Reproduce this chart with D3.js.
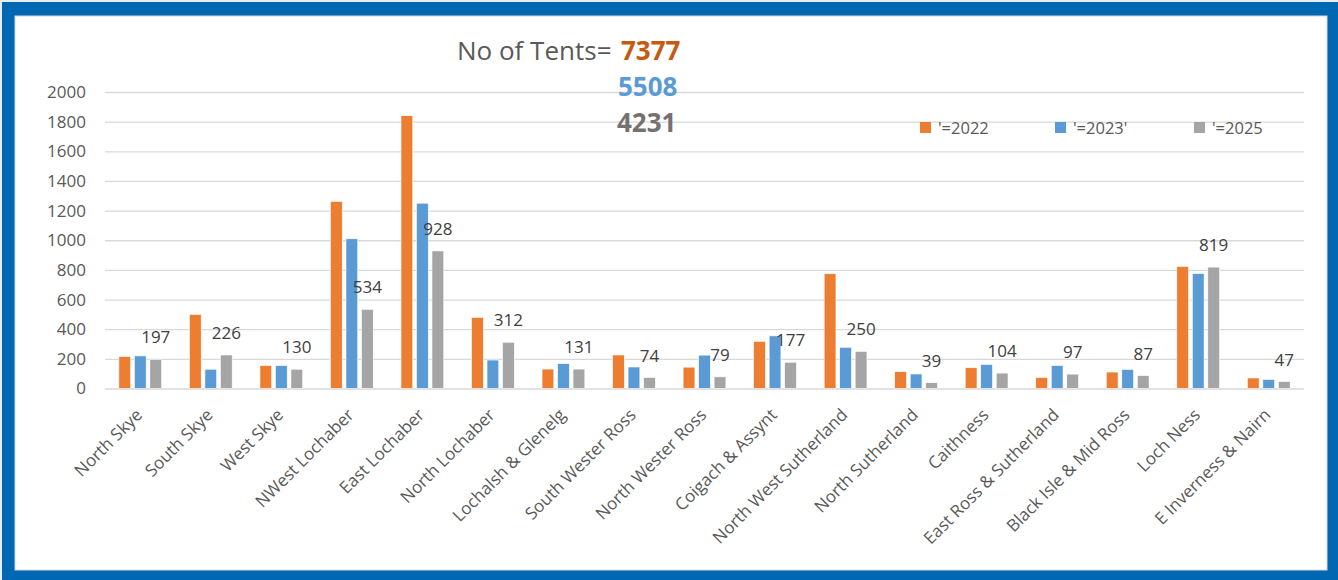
<!DOCTYPE html>
<html>
<head>
<meta charset="utf-8">
<script src="https://cdn.jsdelivr.net/npm/d3@7"></script>
<style>
  body { margin: 0; background: #e9eef4; }
  text { font-family: "Open Sans", sans-serif; }
</style>
</head>
<body>
<svg id="chart" width="1338" height="580"></svg>
<script>
// areas along the x axis
var areas = ["North Skye", "South Skye", "West Skye", "NWest Lochaber", "East Lochaber",
  "North Lochaber", "Lochalsh & Glenelg", "South Wester Ross", "North Wester Ross",
  "Coigach & Assynt", "North West Sutherland", "North Sutherland", "Caithness",
  "East Ross & Sutherland", "Black Isle & Mid Ross", "Loch Ness", "E Inverness & Nairn"];

var seriesNames = ["'=2022", "'=2023'", "'=2025"];

// tents counted
var tents2022 = [215, 500, 155, 1262, 1840, 480, 131, 226, 144, 318, 774, 113, 140, 74, 111, 823, 71];
var tents2023 = [220, 130, 155, 1010, 1250, 192, 168, 145, 225, 355, 278, 98, 162, 155, 129, 775, 61];
var tents2025 = [197, 226, 130, 534, 928, 312, 131, 74, 79, 177, 250, 39, 104, 97, 87, 819, 47];

var totals = [7377, 5508, 4231];
var yTicks = [0, 200, 400, 600, 800, 1000, 1200, 1400, 1600, 1800, 2000];

var colors = ["#ed7d31", "#5b9bd5", "#a5a5a5"];
var totalColors = ["#c55a11", "#5b9bd5", "#767171"];

var W = 1338, H = 580;
var svg = d3.select("#chart");

// frame
svg.append("rect").attr("x", 2).attr("y", 2).attr("width", W - 2).attr("height", H - 2)
  .attr("fill", "#0068b3");
svg.append("rect").attr("x", 15).attr("y", 16).attr("width", 1312).attr("height", 554)
  .attr("fill", "#fff").attr("stroke", "#cfd8e0").attr("stroke-width", 1);

var plotLeft = 105, plotRight = 1304, plotTop = 92, plotBottom = 388.5;

var y = d3.scaleLinear().domain([0, 2000]).range([plotBottom, plotTop]);
var x0 = d3.scaleBand().domain(areas).range([plotLeft, plotRight]);
var x1 = d3.scaleBand().domain(seriesNames).range([0, 46.5])
  .paddingInner(0.24).paddingOuter(0.12);
var groupOffset = (x0.bandwidth() - 46.5) / 2;

// y axis + gridlines
var yAxis = svg.append("g")
  .attr("transform", "translate(" + plotLeft + ",0)")
  .call(d3.axisLeft(y).tickValues(yTicks).tickSizeInner(-(plotRight - plotLeft)).tickSizeOuter(0).tickPadding(19).tickFormat(d3.format("d")));
yAxis.select(".domain").remove();
yAxis.selectAll("line").attr("stroke", "#d9d9d9").attr("stroke-width", 1.3);
yAxis.selectAll("text").attr("fill", "#595959").style("font-size", "17px");

// x axis labels
var xAxis = svg.append("g")
  .attr("transform", "translate(0," + plotBottom + ")")
  .call(d3.axisBottom(x0).tickSize(0));
xAxis.select(".domain").remove();
xAxis.selectAll("text")
  .attr("x", 0).attr("y", 0).attr("dy", 0)
  .attr("transform", "translate(3,27.5) rotate(-45)")
  .style("text-anchor", "end")
  .style("font-size", "17px")
  .attr("fill", "#595959");

// bars
var rows = areas.map(function(a, i) {
  return { area: a, values: [tents2022[i], tents2023[i], tents2025[i]] };
});

var group = svg.selectAll(".grp")
  .data(rows)
  .enter().append("g")
  .attr("class", "grp")
  .attr("transform", function(d) { return "translate(" + (x0(d.area) + groupOffset) + ",0)"; });

group.selectAll("rect")
  .data(function(d) { return d.values.map(function(v, k) { return { key: seriesNames[k], value: v, k: k }; }); })
  .enter().append("rect")
  .attr("x", function(d) { return x1(d.key); })
  .attr("y", function(d) { return y(d.value); })
  .attr("width", x1.bandwidth())
  .attr("height", function(d) { return plotBottom - y(d.value); })
  .attr("fill", function(d) { return colors[d.k]; })
  .attr("stroke", "#fff")
  .attr("stroke-width", 0.6);

// labels over the 2025 bars
group.append("text")
  .attr("x", x1(seriesNames[2]) + x1.bandwidth() / 2)
  .attr("y", function(d) { return y(d.values[2]) - 16; })
  .attr("text-anchor", "middle")
  .style("font-size", "17px")
  .attr("fill", "#404040")
  .text(function(d) { return d.values[2]; });

// title
var title = svg.append("text").attr("x", 457).attr("y", 60).style("font-size", "26px");
title.append("tspan").attr("fill", "#595959").text("No of Tents=");
title.append("tspan").attr("x", 621).attr("fill", totalColors[0]).style("font-weight", "bold").text(totals[0]);
svg.append("text").attr("x", 618).attr("y", 96).style("font-size", "26px").style("font-weight", "bold")
  .attr("fill", totalColors[1]).text(totals[1]);
svg.append("text").attr("x", 617).attr("y", 132).style("font-size", "26px").style("font-weight", "bold")
  .attr("fill", totalColors[2]).text(totals[2]);

// legend
var legendX = [920, 1055, 1194];
var legend = svg.selectAll(".leg")
  .data(seriesNames)
  .enter().append("g")
  .attr("class", "leg")
  .attr("transform", function(d, i) { return "translate(" + legendX[i] + ",122)"; });
legend.append("rect").attr("width", 11).attr("height", 11)
  .attr("fill", function(d, i) { return colors[i]; });
legend.append("text").attr("x", 18).attr("y", 11.5)
  .style("font-size", "16.5px").attr("fill", "#595959")
  .text(function(d) { return d; });
</script>
</body>
</html>
